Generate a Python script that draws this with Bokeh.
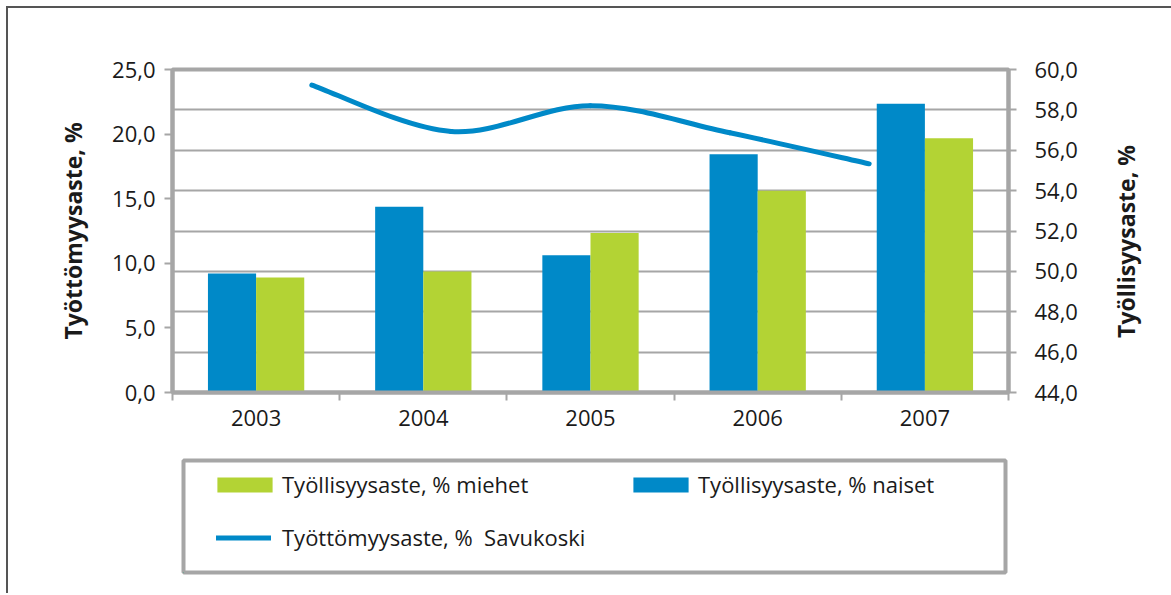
import math
from bokeh.plotting import figure
from bokeh.layouts import column, row
from bokeh.models import (Range1d, LinearAxis, FixedTicker, Grid, Legend, LegendItem,
                          ColumnDataSource)
from bokeh.core.properties import value
from bokeh.embed import file_html
from bokeh.resources import INLINE

# ---------------- data ----------------
years = ["2003", "2004", "2005", "2006", "2007"]
naiset = [49.9, 53.2, 50.8, 55.8, 58.3]      # Työllisyysaste, % naiset (right axis)
miehet = [49.7, 50.0, 51.9, 54.0, 56.6]      # Työllisyysaste, % miehet (right axis)
savukoski = [23.8, 20.2, 22.2, 20.1, 17.7]   # Työttömyysaste, % Savukoski (left axis)
left_ticks = [0, 5, 10, 15, 20, 25]
right_ticks = [44, 46, 48, 50, 52, 54, 56, 58, 60]

left_title = "Työttömyysaste, %"
right_title = "Työllisyysaste, %"
label_miehet = "Työllisyysaste, % miehet"
label_naiset = "Työllisyysaste, % naiset"
label_line = "Työttömyysaste, %  Savukoski"

BLUE = "#0089c8"
GREEN = "#b3d334"
GREY = "#a6a6a6"
TEXT = "#1a1a1a"
FONT = "Open Sans"
FS_TICK = "22px"
FS_AXIS = "23px"
FS_LEG = "22px"

def fmt(v):
    return f"{v:.1f}".replace(".", ",")

idx = list(range(len(years)))
bar_w = 0.288

# ---------------- main chart ----------------
p = figure(frame_width=836, frame_height=323,
           min_border_left=164, min_border_right=90,
           min_border_top=61, min_border_bottom=53,
           x_range=Range1d(-0.5, len(years) - 0.5),
           y_range=Range1d(left_ticks[0], left_ticks[-1]),
           output_backend="svg", toolbar_location=None,
           background_fill_color="white", border_fill_color="white")
p.extra_y_ranges = {"right": Range1d(right_ticks[0], right_ticks[-1])}
p.extra_x_ranges = {"line_x": Range1d(-1, len(years))}

p.outline_line_color = GREY
p.outline_line_width = 4
p.xgrid.visible = False
p.ygrid.visible = False

right_ticker = FixedTicker(ticks=right_ticks)
p.add_layout(Grid(dimension=1, ticker=right_ticker, y_range_name="right",
                  grid_line_color=GREY, grid_line_width=2))

# bars
src = ColumnDataSource(dict(
    xn=[i - bar_w / 2 for i in idx],
    xm=[i + bar_w / 2 for i in idx],
    naiset=naiset, miehet=miehet,
))
p.vbar(x="xn", top="naiset", bottom=right_ticks[0], width=bar_w, source=src,
       y_range_name="right", fill_color=BLUE, line_color=None)
p.vbar(x="xm", top="miehet", bottom=right_ticks[0], width=bar_w, source=src,
       y_range_name="right", fill_color=GREEN, line_color=None)

# smoothed line (Bezier segments through the data points)
n = len(savukoski)
pts = list(zip(idx, savukoski))
x0, y0, x1, y1, cx0, cy0, cx1, cy1 = [], [], [], [], [], [], [], []
for i in range(n - 1):
    pa = pts[max(i - 1, 0)]
    pb = pts[i]
    pc = pts[i + 1]
    pd = pts[min(i + 2, n - 1)]
    x0.append(pb[0]); y0.append(pb[1])
    x1.append(pc[0]); y1.append(pc[1])
    cx0.append(pb[0] + (pc[0] - pa[0]) / 6); cy0.append(pb[1] + (pc[1] - pa[1]) / 6)
    cx1.append(pc[0] - (pd[0] - pb[0]) / 6); cy1.append(pc[1] - (pd[1] - pb[1]) / 6)
p.bezier(x0=x0, y0=y0, x1=x1, y1=y1, cx0=cx0, cy0=cy0, cx1=cx1, cy1=cy1,
         x_range_name="line_x", line_color=BLUE, line_width=5, line_cap="round")

# axes
def style_axis(ax):
    ax.axis_line_color = GREY
    ax.axis_line_width = 4
    ax.major_tick_line_color = GREY
    ax.major_tick_line_width = 2
    ax.minor_tick_line_color = None
    ax.major_label_text_font = FONT
    ax.major_label_text_font_size = FS_TICK
    ax.major_label_text_color = TEXT
    ax.axis_label_text_font = FONT
    ax.axis_label_text_font_size = FS_AXIS
    ax.axis_label_text_font_style = "bold"
    ax.axis_label_text_color = TEXT

ya = p.yaxis[0]
style_axis(ya)
ya.ticker = FixedTicker(ticks=left_ticks)
ya.major_label_overrides = {t: fmt(t) for t in left_ticks}
ya.major_tick_out = 8
ya.major_tick_in = 0
ya.major_label_standoff = 9
ya.axis_label = left_title
ya.axis_label_standoff = 20

ra = LinearAxis(y_range_name="right", ticker=right_ticker)
style_axis(ra)
ra.major_label_overrides = {t: fmt(t) for t in right_ticks}
ra.major_tick_out = 8
ra.major_tick_in = 0
ra.major_label_standoff = 18
p.add_layout(ra, "right")

xa = p.xaxis[0]
style_axis(xa)
xa.ticker = FixedTicker(ticks=idx, minor_ticks=[i - 0.5 for i in range(len(years) + 1)])
xa.major_label_overrides = {i: y for i, y in zip(idx, years)}
xa.major_tick_line_color = None
xa.major_tick_out = 0
xa.major_tick_in = 0
xa.minor_tick_line_color = GREY
xa.minor_tick_line_width = 2
xa.minor_tick_out = 8
xa.minor_tick_in = 0
xa.major_label_standoff = 9

# ---------------- right-axis title strip (reads bottom-to-top) ----------------
RW, RH = 73, 437
r = figure(frame_width=RW, frame_height=RH,
           min_border_left=0, min_border_right=0, min_border_top=0, min_border_bottom=0,
           x_range=Range1d(0, RW), y_range=Range1d(0, RH),
           x_axis_type=None, y_axis_type=None,
           output_backend="svg", toolbar_location=None,
           background_fill_color="white", border_fill_color="white")
r.xgrid.visible = False
r.ygrid.visible = False
r.outline_line_color = None
r.text(x=[27], y=[265], text=[right_title], angle=math.pi / 2,
       text_font=value(FONT), text_font_size=FS_AXIS, text_font_style="bold",
       text_color=TEXT, text_align="center", text_baseline="middle")

# ---------------- legend panel ----------------
q = figure(frame_width=822, frame_height=112,
           min_border_left=175, min_border_right=166,
           min_border_top=15, min_border_bottom=21,
           x_range=Range1d(100, 101), y_range=Range1d(100, 101),
           x_axis_type=None, y_axis_type=None,
           output_backend="svg", toolbar_location=None,
           background_fill_color="white", border_fill_color="white")
q.xgrid.visible = False
q.ygrid.visible = False
q.outline_line_color = GREY
q.outline_line_width = 4

# legend-only renderers (lie outside this panel's ranges, so only their legend swatches show)
lg_m = q.vbar(x=idx, top=miehet, width=bar_w, fill_color=GREEN, line_color=None)
lg_n = q.vbar(x=idx, top=naiset, width=bar_w, fill_color=BLUE, line_color=None)
lg_l = q.line(x=idx, y=savukoski, line_color=BLUE, line_width=5, line_cap="round")

def make_legend(items, loc, gw, gh, standoff, spacing=0):
    lg = Legend(items=items, location=loc, orientation="horizontal",
                padding=0, margin=0, spacing=spacing,
                glyph_width=gw, glyph_height=gh, label_standoff=standoff,
                label_width=300, label_height=30,
                label_text_font=FONT, label_text_font_size=FS_LEG, label_text_color=TEXT,
                border_line_color=None, background_fill_alpha=0)
    q.add_layout(lg)
    return lg

make_legend([LegendItem(label=label_miehet, renderers=[lg_m]),
             LegendItem(label=label_naiset, renderers=[lg_n])],
            (27, 73), 69, 19, 3, spacing=44)
make_legend([LegendItem(label=label_line, renderers=[lg_l])], (33, 20), 55, 15, 11)

root = column(row(p, r, spacing=0), q, spacing=0,
              styles={"margin-left": "6px", "margin-top": "6px",
                      "border-left": "2px solid #555555",
                      "border-top": "2px solid #555555"})

open("out.html", "w").write(file_html(root, INLINE))
